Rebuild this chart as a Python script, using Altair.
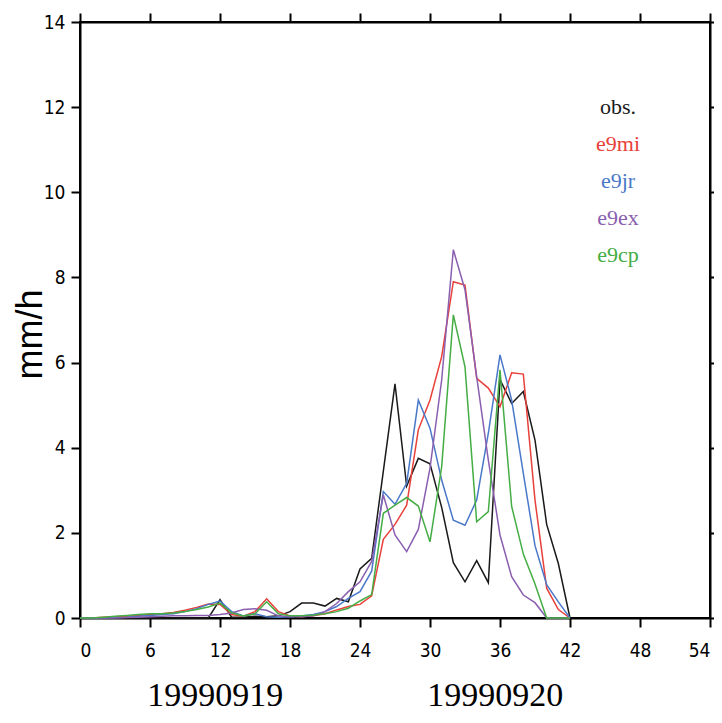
import altair as alt
import pandas as pd

hours = list(range(43))
obs = [0, 0, 0, 0, 0, 0, 0, 0, 0, 0, 0, 0, 0.43, 0.02, 0.02, 0.04, 0.03, 0.05, 0.15, 0.35,
       0.35, 0.28, 0.46, 0.38, 1.15, 1.4, 3.45, 5.5, 3.1, 3.75, 3.62, 2.6, 1.3, 0.85, 1.35, 0.83,
       5.6, 5.04, 5.32, 4.18, 2.2, 1.28, 0]
e9mi = [0, 0, 0.02, 0.03, 0.04, 0.06, 0.08, 0.1, 0.13, 0.18, 0.25, 0.33, 0.32, 0.08, 0.04, 0.15,
        0.45, 0.15, 0.05, 0.03, 0.05, 0.1, 0.19, 0.27, 0.32, 0.52, 1.85, 2.2, 2.65, 4.42, 5.12, 6.14,
        7.9, 7.82, 5.63, 5.4, 4.96, 5.76, 5.73, 2.77, 0.7, 0.2, 0]
e9jr = [0, 0, 0, 0.01, 0.02, 0.04, 0.06, 0.08, 0.1, 0.15, 0.22, 0.32, 0.4, 0.15, 0.05, 0.1,
        0.03, 0.02, 0.03, 0.05, 0.08, 0.15, 0.27, 0.46, 0.62, 1.1, 2.97, 2.67, 3.16, 5.12, 4.46, 3.24,
        2.3, 2.18, 2.77, 4.34, 6.18, 5.12, 3.4, 1.7, 0.78, 0.38, 0]
e9ex = [0, 0, 0, 0, 0.01, 0.02, 0.03, 0.04, 0.05, 0.05, 0.06, 0.06, 0.08, 0.12, 0.2, 0.22,
        0.18, 0.05, 0.03, 0.03, 0.05, 0.15, 0.34, 0.62, 0.85, 1.33, 2.89, 1.95, 1.56, 2.08, 3.52, 5.59,
        8.65, 7.71, 5.67, 3.71, 1.95, 0.97, 0.54, 0.36, 0, 0, 0]
e9cp = [0, 0, 0.02, 0.04, 0.06, 0.08, 0.1, 0.1, 0.12, 0.15, 0.2, 0.26, 0.35, 0.12, 0.05, 0.1,
        0.38, 0.1, 0.05, 0.05, 0.07, 0.1, 0.15, 0.23, 0.4, 0.55, 2.46, 2.65, 2.83, 2.63, 1.79, 3.55,
        7.12, 5.9, 2.26, 2.5, 5.83, 2.62, 1.5, 0.8, 0, 0, 0]

series_names = ["obs.", "e9mi", "e9jr", "e9ex", "e9cp"]
series_colors = ["#1a1a1a", "#e8403a", "#4a78c8", "#8a5fb0", "#44ad44"]
x_ticks = list(range(0, 55, 6))
y_ticks = list(range(0, 15, 2))
dates = ["19990919", "19990920"]
date_pos = [11.6, 35.6]

rows = []
for name, vals in zip(series_names, [obs, e9mi, e9jr, e9ex, e9cp]):
    for h, v in zip(hours, vals):
        rows.append({"series": name, "hour": h, "rate": v})
df = pd.DataFrame(rows)

W, H = 630, 596
xs = alt.Scale(domain=[0, 54], nice=False, zero=False)
ys = alt.Scale(domain=[0, 14], nice=False)
tick_font = "Liberation Sans Narrow, DejaVu Sans Condensed, Liberation Sans, sans-serif"

common_axis = dict(grid=False, tickSize=9, tickWidth=2, domainWidth=2, tickColor="black",
                   domainColor="black", labelColor="black", labelFont=tick_font, labelFontSize=19)

lines = alt.Chart(df).mark_line(strokeWidth=1.5).encode(
    x=alt.X("hour:Q", scale=xs,
            axis=alt.Axis(orient="bottom", values=x_ticks, title=None, labelPadding=14,
                          **common_axis)),
    y=alt.Y("rate:Q", scale=ys,
            axis=alt.Axis(orient="left", values=y_ticks, title="mm/h", labelPadding=6,
                          titleFont="Liberation Sans", titleFontSize=36, titleFontWeight="normal",
                          titleColor="black", titleAngle=270, titleX=-39, titleY=312,
                          titleAlign="center", titleBaseline="alphabetic", **common_axis)),
    color=alt.Color("series:N", scale=alt.Scale(domain=series_names, range=series_colors),
                    legend=None),
)

frame = alt.Chart(df).mark_line(opacity=0).encode(
    x=alt.X("hour:Q", scale=xs,
            axis=alt.Axis(orient="top", values=x_ticks, title=None, labels=False, **common_axis)),
    y=alt.Y("rate:Q", scale=ys,
            axis=alt.Axis(orient="right", values=y_ticks, title=None, labels=False, **common_axis)),
    detail="series:N",
)

date_df = pd.DataFrame({"date": dates, "pos": date_pos})
date_text = alt.Chart(date_df).mark_text(
    font="Liberation Serif", fontSize=34, align="center", baseline="alphabetic", color="black"
).encode(
    x=alt.X("pos:Q", scale=xs, axis=None),
    y=alt.value(684),
    text="date:N",
)

legend_layers = []
for i, (name, col) in enumerate(zip(series_names, series_colors)):
    legend_layers.append(
        alt.Chart(pd.DataFrame({"t": [name]})).mark_text(
            font="Liberation Serif", fontSize=22, align="center", baseline="alphabetic", color=col
        ).encode(text="t:N", x=alt.value(538), y=alt.value(92 + i * 37))
    )

chart = alt.layer(frame, lines, date_text, *legend_layers).resolve_axis(
    x="independent", y="independent"
).properties(
    width=W, height=H,
    padding={"left": 72, "top": 14, "right": 4, "bottom": 97},
    autosize=alt.AutoSizeParams(type="none"),
).configure_view(stroke="black", strokeWidth=2)

chart.save("out.html", embed_options={"renderer": "svg", "actions": False})
